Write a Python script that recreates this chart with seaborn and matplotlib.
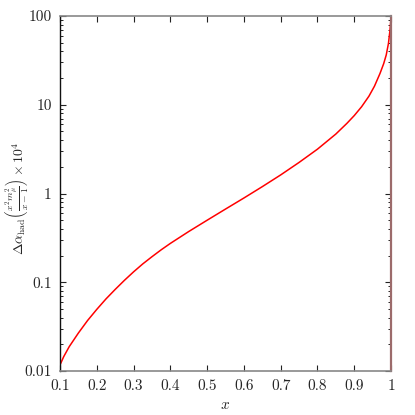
"""
Delta alpha_had curve vs x, log y axis
"""

import matplotlib
matplotlib.use("Agg")
import matplotlib.pyplot as plt
import matplotlib.ticker as mticker
import numpy as np
import pandas as pd
import seaborn as sns

# values
x_vals = [0.1, 0.11, 0.125, 0.15, 0.175, 0.2, 0.225, 0.25, 0.275, 0.3, 0.325, 0.35,
          0.375, 0.4, 0.45, 0.5, 0.55, 0.6, 0.65, 0.7, 0.75, 0.8, 0.85, 0.88, 0.9,
          0.92, 0.94, 0.955, 0.97, 0.98, 0.987, 0.993, 0.997, 0.999, 1.0]
y_vals = [0.0117, 0.0145, 0.0188, 0.0268, 0.0371, 0.0495, 0.0649, 0.083, 0.105,
          0.131, 0.161, 0.194, 0.232, 0.274, 0.373, 0.50, 0.668, 0.89, 1.195, 1.62,
          2.24, 3.16, 4.68, 6.17, 7.55, 9.5, 12.5, 16.2, 22.5, 29.0, 36.4, 49.0,
          68.0, 85.0, 100.0]
x_ticks = [0.1, 0.2, 0.3, 0.4, 0.5, 0.6, 0.7, 0.8, 0.9, 1.0]
x_tick_labels = ["0.1", "0.2", "0.3", "0.4", "0.5", "0.6", "0.7", "0.8", "0.9", "1"]
y_ticks = [0.01, 0.1, 1, 10, 100]
y_tick_labels = ["0.01", "0.1", "1", "10", "100"]

sns.set_style("ticks")
plt.rcParams["font.family"] = ["cmr10", "DejaVu Serif"]
plt.rcParams["mathtext.fontset"] = "cm"
plt.rcParams["axes.unicode_minus"] = False
plt.rcParams["axes.formatter.use_mathtext"] = True

df = pd.DataFrame({"x": x_vals, "y": y_vals})

fig = plt.figure(figsize=(4.15, 4.15), dpi=100)
ax = fig.add_axes([0.1446, 0.106, 0.7976, 0.8554])

sns.lineplot(data=df, x="x", y="y", ax=ax, color="#ff0000", linewidth=1.1)

ax.set_yscale("log")
ax.set_xlim(0.1, 1.0)
ax.set_ylim(0.01, 100)

ax.xaxis.set_major_locator(mticker.FixedLocator(x_ticks))
ax.xaxis.set_major_formatter(mticker.FixedFormatter(x_tick_labels))
ax.yaxis.set_major_locator(mticker.FixedLocator(y_ticks))
ax.yaxis.set_major_formatter(mticker.FixedFormatter(y_tick_labels))
ax.yaxis.set_minor_locator(mticker.LogLocator(base=10, subs=np.arange(2, 10)))
ax.yaxis.set_minor_formatter(mticker.NullFormatter())

ax.tick_params(axis="both", which="both", direction="in", top=True, right=True,
               labelsize=11, color="#222222")
ax.tick_params(axis="both", which="major", length=4, width=0.8, pad=6)
ax.tick_params(axis="y", which="minor", length=2.5, width=0.7)

for side in ["top", "bottom"]:
    ax.spines[side].set_color("#888888")
    ax.spines[side].set_linewidth(1.2)
ax.spines["left"].set_color("#111111")
ax.spines["left"].set_linewidth(1.0)
ax.spines["right"].set_color("#9c6b6b")
ax.spines["right"].set_linewidth(1.6)

ax.set_xlabel(r"$x$", fontsize=11, va="center")
ax.xaxis.set_label_coords(0.5, -0.095)
ax.set_ylabel(r"$\Delta\alpha_{\rm had}\left(\frac{x^2 m_\mu^2}{x-1}\right)\times 10^4$",
              fontsize=10, va="center")
ax.yaxis.set_label_coords(-0.13, 0.487)

fig.savefig("out.png", dpi=100)
plt.close(fig)
